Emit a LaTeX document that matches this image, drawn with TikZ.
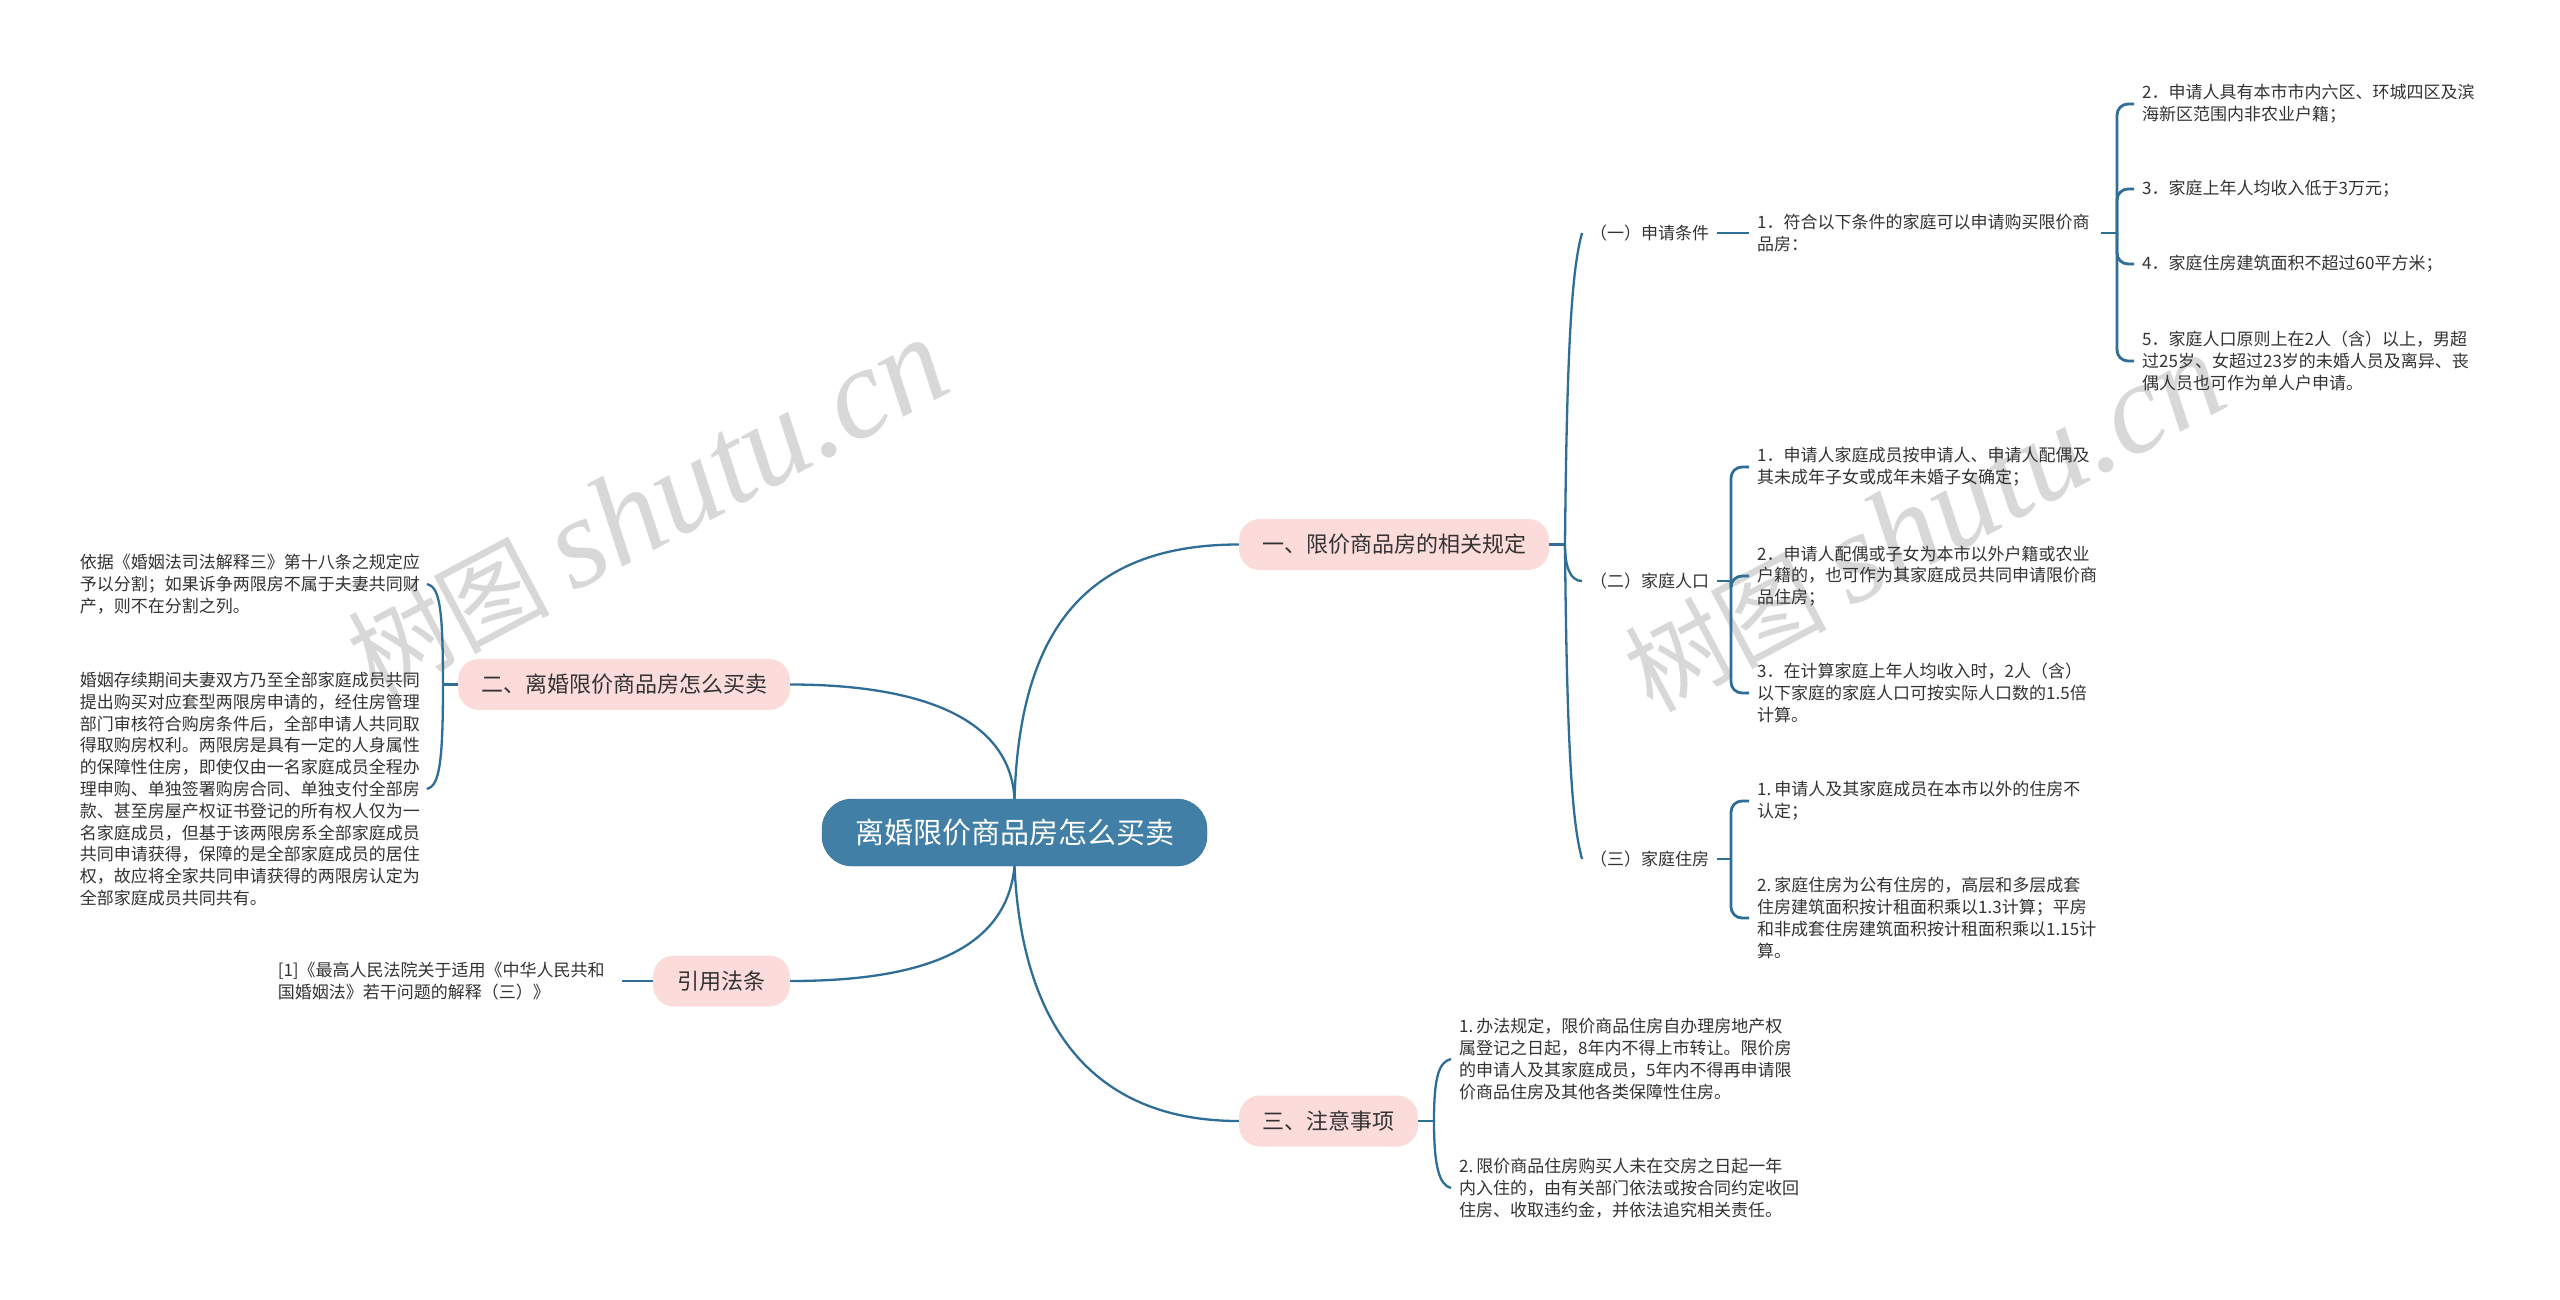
\documentclass[tikz,border=0pt]{standalone}
\usepackage{fontspec}
\setmainfont{Noto Sans CJK SC}
\newfontfamily\markfont{Liberation Serif}
\definecolor{linkblue}{HTML}{2F6E96}
\definecolor{rootblue}{HTML}{417FA6}
\definecolor{pinkfill}{HTML}{FBDCDA}
\definecolor{inktext}{HTML}{333333}
\definecolor{markgrey}{HTML}{D8D8D8}

\begin{document}
\begin{tikzpicture}[x=1pt,y=-1pt]
\tikzset{rootbox/.style={fill=rootblue,draw=linkblue,rounded corners=30pt,text=white,minimum width=385pt,minimum height=67pt,inner sep=0pt,font=\fontsize{29}{34}\selectfont}}
\tikzset{topic/.style={fill=pinkfill,rounded corners=21pt,text=inktext,minimum height=51pt,inner sep=0pt,font=\fontsize{22}{26}\selectfont}}
\tikzset{leaf/.style={text=inktext,inner xsep=8pt,inner ysep=0pt,yshift=-1pt,font=\fontsize{17}{21.8}\selectfont}}
\tikzset{para/.style={leaf,align=left,text width=336pt}}
\tikzset{curve/.style={linkblue,line width=2.3pt}}
\tikzset{bracket/.style={linkblue,line width=2.8pt,rounded corners=11pt}}
\tikzset{wmark/.style={text=markgrey,rotate=28,inner sep=0pt,font=\fontsize{101}{120}\selectfont}}
\useasboundingbox (0,0) rectangle (2560,1299);
\fill[white] (0,0) rectangle (2560,1299);
% watermarks
\node[wmark] (wma) at (647,508) {树图 {\markfont\itshape\fontsize{129}{120}\selectfont shutu.cn}};
\begin{scope}
\clip (1200,0) rectangle (2228,1299);
\node[wmark] (wmb) at (1924,523) {树图 {\markfont\itshape\fontsize{129}{120}\selectfont shutu.cn}};
\end{scope}
% main topics
\node[rootbox] (root) at (1014.5,832.5) {离婚限价商品房怎么买卖};
\node[topic,minimum width=310pt] (rule) at (1394,544.5) {一、限价商品房的相关规定};
\node[topic,minimum width=332pt] (how) at (624,684.5) {二、离婚限价商品房怎么买卖};
\node[topic,minimum width=137pt] (law) at (721.5,981) {引用法条};
\node[topic,minimum width=179pt] (note) at (1328.5,1121) {三、注意事项};
\draw[curve] (root.north) .. controls +(5,-160) and +(-160,0) .. (rule.west);
\draw[curve] (root.north) .. controls +(-5,-90) and +(110,0) .. (how.east);
\draw[curve] (root.south) .. controls +(-8,85) and +(130,0) .. (law.east);
\draw[curve] (root.south) .. controls +(7,155) and +(-150,0) .. (note.west);
% first topic
\node[leaf,anchor=west] (apply) at (1582,232) {（一）申请条件};
\node[leaf,anchor=west] (family) at (1582,580) {（二）家庭人口};
\node[leaf,anchor=west] (house) at (1582,858) {（三）家庭住房};
\coordinate (ruletr) at (1565,544.5);
\draw[curve] (rule.east) -- (ruletr);
\draw[curve] (ruletr) .. controls +(2,-230) and +(-8,30) .. (apply.west);
\draw[curve] (ruletr) .. controls +(0,22) and +(-12,0) .. (family.west);
\draw[curve] (ruletr) .. controls +(2,230) and +(-8,-30) .. (house.west);
\node[para,anchor=west] (cond) at (1749,232) {1．符合以下条件的家庭可以申请购买限价商\\品房：};
\draw[bracket] (apply.east) -- (cond.west);
\node[para,anchor=west] (conda) at (2134,103) {2．申请人具有本市市内六区、环城四区及滨\\海新区范围内非农业户籍；};
\node[para,anchor=west] (condb) at (2134,188) {3．家庭上年人均收入低于3万元；};
\node[para,anchor=west] (condc) at (2134,263) {4．家庭住房建筑面积不超过60平方米；};
\node[para,anchor=west] (condd) at (2134,360) {5．家庭人口原则上在2人（含）以上，男超\\过25岁、女超过23岁的未婚人员及离异、丧\\偶人员也可作为单人户申请。};
\coordinate (condtr) at (2117,233);
\draw[bracket] (cond.east) -- (condtr);
\foreach \kid in {conda,condb,condc,condd}
  \draw[bracket] (condtr) |- (\kid.west);
\node[para,anchor=west] (fama) at (1749,466) {1．申请人家庭成员按申请人、申请人配偶及\\其未成年子女或成年未婚子女确定；};
\node[para,anchor=west] (famb) at (1749,575) {2．申请人配偶或子女为本市以外户籍或农业\\户籍的，也可作为其家庭成员共同申请限价商\\品住房；};
\node[para,anchor=west] (famc) at (1749,692) {3．在计算家庭上年人均收入时，2人（含）\\以下家庭的家庭人口可按实际人口数的1.5倍\\计算。};
\coordinate (famtr) at (1731,581);
\draw[bracket] (family.east) -- (famtr);
\foreach \kid in {fama,famb,famc}
  \draw[bracket] (famtr) |- (\kid.west);
\node[para,anchor=west] (houa) at (1749,800) {1.\hspace{3pt}申请人及其家庭成员在本市以外的住房不\\认定；};
\node[para,anchor=west] (houb) at (1749,917) {2.\hspace{3pt}家庭住房为公有住房的，高层和多层成套\\住房建筑面积按计租面积乘以1.3计算；平房\\和非成套住房建筑面积按计租面积乘以1.15计\\算。};
\coordinate (houtr) at (1731,859);
\draw[bracket] (house.east) -- (houtr);
\foreach \kid in {houa,houb}
  \draw[bracket] (houtr) |- (\kid.west);
% second topic
\node[para,text width=339pt,anchor=east] (howa) at (427,583) {依据《婚姻法司法解释三》第十八条之规定应\\予以分割；如果诉争两限房不属于夫妻共同财\\产，则不在分割之列。};
\node[para,text width=339pt,anchor=east] (howb) at (427,788) {婚姻存续期间夫妻双方乃至全部家庭成员共同\\提出购买对应套型两限房申请的，经住房管理\\部门审核符合购房条件后，全部申请人共同取\\得取购房权利。两限房是具有一定的人身属性\\的保障性住房，即使仅由一名家庭成员全程办\\理申购、单独签署购房合同、单独支付全部房\\款、甚至房屋产权证书登记的所有权人仅为一\\名家庭成员，但基于该两限房系全部家庭成员\\共同申请获得，保障的是全部家庭成员的居住\\权，故应将全家共同申请获得的两限房认定为\\全部家庭成员共同共有。};
\coordinate (howtr) at (443,684.5);
\draw[curve] (how.west) -- (howtr);
\draw[curve] (howtr) .. controls +(0,-80) and +(12,3) .. (howa.east);
\draw[curve] (howtr) .. controls +(0,80) and +(12,-3) .. (howb.east);
% citation
\node[para,anchor=east] (lawa) at (622,980) {[1]《最高人民法院关于适用《中华人民共和\\国婚姻法》若干问题的解释（三）》};
\draw[bracket] (law.west) -- (lawa.east);
% third topic
\node[para,anchor=west] (notea) at (1451,1058) {1.\hspace{3pt}办法规定，限价商品住房自办理房地产权\\属登记之日起，8年内不得上市转让。限价房\\的申请人及其家庭成员，5年内不得再申请限\\价商品住房及其他各类保障性住房。};
\node[para,anchor=west] (noteb) at (1451,1187) {2.\hspace{3pt}限价商品住房购买人未在交房之日起一年\\内入住的，由有关部门依法或按合同约定收回\\住房、收取违约金，并依法追究相关责任。};
\coordinate (notetr) at (1434,1121);
\draw[curve] (note.east) -- (notetr);
\draw[curve] (notetr) .. controls +(0,-45) and +(-12,3) .. (notea.west);
\draw[curve] (notetr) .. controls +(0,45) and +(-12,-3) .. (noteb.west);
\end{tikzpicture}
\end{document}
